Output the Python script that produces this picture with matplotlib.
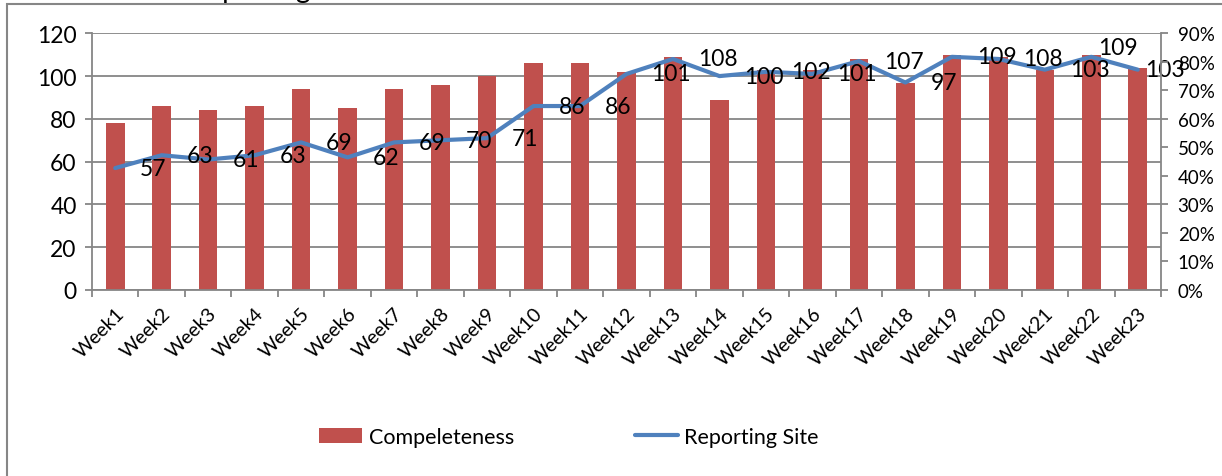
import numpy as np
import matplotlib
matplotlib.use('Agg')
import matplotlib.pyplot as plt
import matplotlib.transforms as mtransforms
from matplotlib.ticker import PercentFormatter, MultipleLocator
from matplotlib.patches import Rectangle

plt.rcParams['font.family'] = ['Lato', 'DejaVu Sans']

weeks = [f'Week{i}' for i in range(1, 24)]
completeness = [78, 86, 84, 86, 94, 85, 94, 96, 100, 106, 106, 102,
                109, 89, 103, 103, 108, 97, 110, 109, 103, 110, 104]
reporting_site = [57, 63, 61, 63, 69, 62, 69, 70, 71, 86, 86, 101,
                  108, 100, 102, 101, 107, 97, 109, 108, 103, 109, 103]

bar_color = '#C0504D'
line_color = '#4F81BD'
grey = '#868686'

fig = plt.figure(figsize=(12.22, 4.77), dpi=100)
ax = fig.add_axes([92 / 1222, 1 - 291 / 477, (1161 - 92) / 1222, (291 - 34.3) / 477])

x = np.arange(len(weeks))
bars = ax.bar(x, completeness, width=0.4, color=bar_color, zorder=2,
              label='Compeleteness')
line, = ax.plot(x, reporting_site, color=line_color, lw=3, zorder=3,
                solid_joinstyle='round', solid_capstyle='round',
                label='Reporting Site')

# data labels to the right of each point (last two were nudged in the original)
for i, v in enumerate(reporting_site):
    dx, dy = 18, 0
    if i == 21:
        dx, dy = 5, 7
    elif i == 22:
        dx, dy = 5, 0
    ax.annotate(str(v), (x[i], v), xytext=(dx, dy), textcoords='offset points',
                ha='left', va='center', fontsize=16.5, zorder=4)

ax.set_xlim(-0.5, len(weeks) - 0.5)
ax.set_ylim(0, 120)
ax.yaxis.set_major_locator(MultipleLocator(20))
ax.set_axisbelow(True)
ax.yaxis.grid(True, color=grey, lw=1.3)

ax.set_xticks(x)
ax.set_xticklabels(weeks, rotation=45, ha='right', va='top',
                   rotation_mode='anchor', fontsize=14)
shift = mtransforms.ScaledTranslation(-8 / 100, 0, fig.dpi_scale_trans)
for lab in ax.get_xticklabels():
    lab.set_transform(lab.get_transform() + shift)
ax.set_xticks(np.arange(-0.5, len(weeks), 1), minor=True)
ax.tick_params(axis='x', which='major', length=0, pad=10)
ax.tick_params(axis='x', which='minor', length=5, color=grey, width=1.3)
ax.tick_params(axis='y', labelsize=16.5, length=5, color=grey, width=1.3, pad=6)

for side in ['top', 'right']:
    ax.spines[side].set_visible(False)
for side in ['left', 'bottom']:
    ax.spines[side].set_color(grey)
    ax.spines[side].set_linewidth(1.3)

ax2 = ax.twinx()
ax2.set_ylim(0, 0.9)
ax2.yaxis.set_major_locator(MultipleLocator(0.1))
ax2.yaxis.set_major_formatter(PercentFormatter(1.0, decimals=0))
ax2.tick_params(axis='y', labelsize=13.5, length=5, color=grey, width=1.3, pad=7)
for side in ['top', 'left', 'bottom']:
    ax2.spines[side].set_visible(False)
ax2.spines['right'].set_color(grey)
ax2.spines['right'].set_linewidth(1.3)

ax.legend(handles=[bars, line], loc='center',
          bbox_to_anchor=(569 / 1222, 1 - 438 / 477),
          bbox_transform=fig.transFigure, ncol=2, frameon=False,
          fontsize=15.5, handlelength=2.0, handleheight=0.7,
          handletextpad=0.3, columnspacing=5.6)

# chart area border, cut by the image edges
fig.patches.append(Rectangle((7 / 1222, -0.1), 1.2, 1 - 5 / 477 + 0.1,
                             transform=fig.transFigure, fill=False,
                             edgecolor=grey, lw=1.5))
# title, mostly cropped off at the top
fig.text(190 / 1222, 1 + 2 / 477, 'Reporting Site', fontsize=20,
         ha='left', va='baseline')

fig.savefig('out.png', dpi=100)
